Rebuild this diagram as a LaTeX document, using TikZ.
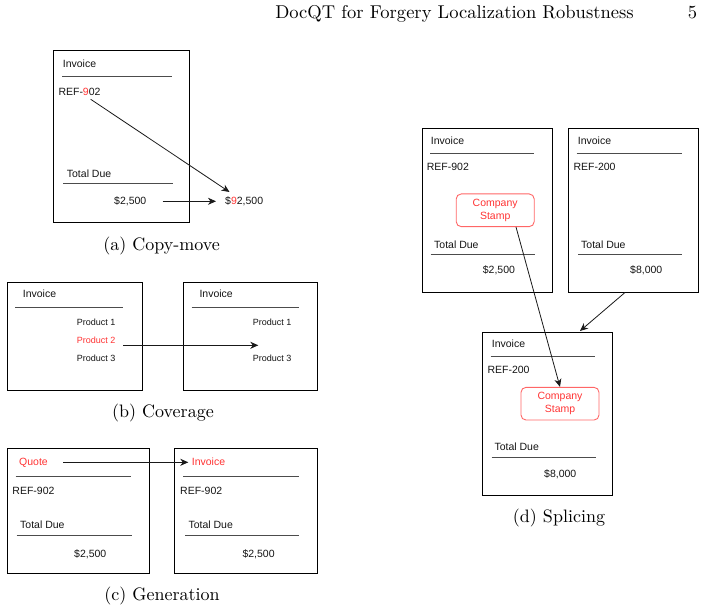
\documentclass[tikz,border=0pt]{standalone}
\usepackage{fontspec}
\newfontfamily\diafont{Liberation Sans}
\usetikzlibrary{arrows.meta}
\definecolor{fred}{HTML}{FF3333}
\definecolor{stampred}{HTML}{FF6666}
\begin{document}
\begin{tikzpicture}[x=1pt,y=-1pt,
  doc/.style={draw=black, line width=0.9pt, inner sep=0pt, anchor=north west},
  txt/.style={font=\diafont\fontsize{10.5}{12}\selectfont, text=black!92, inner sep=0pt, anchor=west, text height=7.5pt, text depth=0pt},
  small/.style={txt, font=\diafont\fontsize{9}{11}\selectfont, text height=6.45pt},
  rule/.style={draw=black!70, line width=0.9pt},
  conn/.style={draw=black!90, line width=0.8pt, -{Stealth[length=8pt,width=7pt,inset=2.5pt]}},
  stamp/.style={draw=stampred, line width=0.9pt, rounded corners=5pt, minimum width=78pt, minimum height=32.7pt, inner sep=0pt, align=center, text=fred, font=\diafont\fontsize{10.5}{12.7}\selectfont},
  captxt/.style={scale=1.8, inner sep=0pt, anchor=base}
]
\useasboundingbox (0,0) rectangle (705,612);

% header
\node[captxt, scale=1.03] (title) at (454.5,19) {DocQT for Forgery Localization Robustness};
\node[captxt, scale=1.03] (pageno) at (692.5,19) {5};

% (a) Copy-move
\node[doc, minimum width=136pt, minimum height=172pt] (abox) at (53,50.5) {};
\node[txt] (ainv) at (62.7,64) {Invoice};
\draw[rule] (62,76.7) -- (172,76.7);
\node[txt] (aref) at (58.3,91.7) {REF-\textcolor{fred}{9}02};
\node[txt] (atot) at (66.7,173.3) {Total Due};
\draw[rule] (63,183.3) -- (172.7,183.3);
\node[txt] (aamt) at (114,201) {\$2,500};
\node[txt] (anew) at (225,201) {\$\textcolor{fred}{9}2,500};
\coordinate (as1) at (90.7,99.3);
\coordinate (ae1) at (229.5,192);
\coordinate (as2) at (162.7,201.3);
\coordinate (ae2) at (216,201.3);
\draw[conn] (as1) -- (ae1);
\draw[conn] (as2) -- (ae2);
\node[captxt] (capa) at (161.7,250.5) {(a) Copy-move};

% (b) Coverage
\node[doc, minimum width=135pt, minimum height=108.3pt] (bbox1) at (6.7,281.7) {};
\node[doc, minimum width=134.6pt, minimum height=108.3pt] (bbox2) at (182.7,281.7) {};
\node[txt] (binv1) at (22.7,294) {Invoice};
\node[txt] (binv2) at (199.3,294) {Invoice};
\draw[rule] (15,307.7) -- (123,307.7);
\draw[rule] (191.7,307.7) -- (299.3,307.7);
\node[small] (bp1) at (76.7,322.3) {Product 1};
\node[small, text=fred] (bp2) at (76.7,340.3) {Product 2};
\node[small] (bp3) at (76.7,358.7) {Product 3};
\node[small] (bq1) at (252.7,322.3) {Product 1};
\node[small] (bq3) at (252.7,358.7) {Product 3};
\coordinate (bs) at (123.3,345.3);
\coordinate (be) at (258.3,345.3);
\draw[conn] (bs) -- (be);
\node[captxt] (capb) at (163,417.7) {(b) Coverage};

% (c) Generation
\node[doc, minimum width=142.6pt, minimum height=125pt] (cbox1) at (6.7,448.3) {};
\node[doc, minimum width=143pt, minimum height=125pt] (cbox2) at (174.3,448.3) {};
\node[txt, text=fred] (cq) at (19,462) {Quote};
\node[txt, text=fred] (ci) at (191.7,462) {Invoice};
\draw[rule] (15.7,476.7) -- (130.7,476.7);
\draw[rule] (183.3,476.7) -- (299,476.7);
\node[txt] (cr1) at (12.3,491) {REF-902};
\node[txt] (cr2) at (180,491) {REF-902};
\node[txt] (ct1) at (20,525) {Total Due};
\node[txt] (ct2) at (188.3,525) {Total Due};
\draw[rule] (16.7,535.7) -- (131.7,535.7);
\draw[rule] (185,535.7) -- (299.3,535.7);
\node[txt] (ca1) at (74,553.3) {\$2,500};
\node[txt] (ca2) at (242.3,553.3) {\$2,500};
\coordinate (cs) at (63.3,462.3);
\coordinate (ce) at (188.3,462.3);
\draw[conn] (cs) -- (ce);
\node[captxt] (capc) at (162,600.5) {(c) Generation};

% (d) Splicing
\node[doc, minimum width=130pt, minimum height=164pt] (dbox1) at (421.7,128.3) {};
\node[doc, minimum width=130pt, minimum height=164pt] (dbox2) at (568.3,128.3) {};
\node[doc, minimum width=130.3pt, minimum height=163.3pt] (dbox3) at (482,331.7) {};
% d1
\node[txt] (dinv1) at (430.7,140.7) {Invoice};
\draw[rule] (430,153.3) -- (534.3,153.3);
\node[txt] (dref1) at (426.7,166.7) {REF-902};
\node[stamp] (st1) at (495.2,210.3) {Company\\Stamp};
\node[txt] (dtot1) at (434,244.3) {Total Due};
\draw[rule] (430.7,254.3) -- (535,254.3);
\node[txt] (damt1) at (482.7,270) {\$2,500};
% d2
\node[txt] (dinv2) at (577.7,140.7) {Invoice};
\draw[rule] (576.7,153.3) -- (681.7,153.3);
\node[txt] (dref2) at (573.3,166.7) {REF-200};
\node[txt] (dtot2) at (581,244.3) {Total Due};
\draw[rule] (578.3,254.3) -- (682.3,254.3);
\node[txt] (damt2) at (630,270) {\$8,000};
% d3
\node[txt] (dinv3) at (491.7,343.3) {Invoice};
\draw[rule] (490.7,356.7) -- (595,356.7);
\node[txt] (dref3) at (487.3,370) {REF-200};
\node[stamp] (st2) at (560,403.7) {Company\\Stamp};
\node[txt] (dtot3) at (494.3,447) {Total Due};
\draw[rule] (491.7,457) -- (595.7,457);
\node[txt] (damt3) at (544,473.3) {\$8,000};
\coordinate (ds1) at (516,227);
\coordinate (ds2) at (625,292.5);
\coordinate (de2) at (580,331);
\draw[conn] (ds1) -- (st2.north);
\draw[conn] (ds2) -- (de2);
\node[captxt] (capd) at (559,522.5) {(d) Splicing};
\end{tikzpicture}
\end{document}
